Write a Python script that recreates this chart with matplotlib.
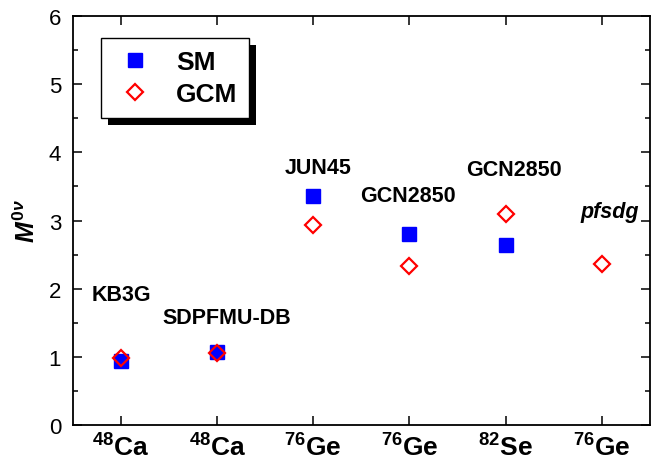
import numpy as np
import matplotlib
matplotlib.use("Agg")
import matplotlib.pyplot as plt
from matplotlib.patches import Rectangle

# =========================
# Data
# =========================
mass_numbers = ["48", "48", "76", "76", "82", "76"]
elements = ["Ca", "Ca", "Ge", "Ge", "Se", "Ge"]
interactions = ["KB3G", "SDPFMU-DB", "JUN45", "GCN2850", "GCN2850", "pfsdg"]
sm_values = [0.94, 1.07, 3.36, 2.81, 2.64, np.nan]
gcm_values = [0.98, 1.06, 2.94, 2.33, 3.10, 2.36]

# label placement (data coords), layout only
label_pos = [(1.00, 1.92), (2.10, 1.58), (3.05, 3.78),
             (3.98, 3.37), (5.09, 3.75), (6.08, 3.13)]

# =========================
# Style
# =========================
plt.rcParams["font.family"] = ["Liberation Sans", "DejaVu Sans"]
plt.rcParams["mathtext.fontset"] = "custom"
plt.rcParams["mathtext.rm"] = "Liberation Sans:bold"
plt.rcParams["mathtext.bf"] = "Liberation Sans:bold"
plt.rcParams["mathtext.it"] = "Liberation Sans:bold:italic"

fig = plt.figure(figsize=(6.55, 4.64), dpi=100)
ax = fig.add_axes([0.1115, 0.082, 0.8805, 0.881])

x = np.arange(1, len(elements) + 1)

ax.plot(x, sm_values, "s", color="blue", markersize=10, linestyle="none",
        label="SM", zorder=3)
ax.plot(x, gcm_values, "D", markerfacecolor="none", markeredgecolor="red",
        markeredgewidth=1.6, markersize=8, linestyle="none", label="GCM",
        zorder=4)

for name, (lx, ly) in zip(interactions, label_pos):
    style = "italic" if name == "pfsdg" else "normal"
    ax.text(lx, ly, name, ha="center", va="center", fontsize=15.5,
            fontweight="bold", fontstyle=style)

ax.set_xlim(0.5, 6.5)
ax.set_ylim(0, 6)
ax.set_xticks(x)
ax.set_xticklabels([rf"$^{{{m}}}\mathrm{{{e}}}$" for m, e in zip(mass_numbers, elements)],
                   fontsize=19)
ax.set_yticks(np.arange(0, 7, 1))
ax.set_yticks(np.arange(0.5, 6, 1), minor=True)
ax.tick_params(axis="y", labelsize=16, pad=8.5)
ax.tick_params(which="major", direction="in", length=6.5, width=1.1,
               top=True, right=True)
ax.tick_params(which="minor", direction="in", length=3.5, width=1.1,
               top=False, right=True)
ax.tick_params(axis="x", pad=6)
for sp in ax.spines.values():
    sp.set_linewidth(1.3)

ax.set_ylabel(r"$M^{0\nu}$", fontsize=18, labelpad=6)

leg = ax.legend(loc="upper left", bbox_to_anchor=(0.048, 0.946),
                frameon=True, fancybox=False, edgecolor="black",
                prop={"weight": "bold", "size": 19}, handletextpad=0.7,
                borderpad=0.45, labelspacing=0.3, borderaxespad=0,
                handlelength=1.7)
leg.get_frame().set_linewidth(1.0)
leg.get_frame().set_alpha(1)

# drop shadow behind legend
fig.canvas.draw()
bb = leg.get_window_extent().transformed(ax.transAxes.inverted())
dx = 7 / (ax.get_window_extent().width)
dy = 7 / (ax.get_window_extent().height)
ax.add_patch(Rectangle((bb.x0 + dx, bb.y0 - dy), bb.width, bb.height,
                       transform=ax.transAxes, facecolor="black",
                       edgecolor="none", zorder=4.9, clip_on=False))

fig.savefig("out.png", dpi=100)
